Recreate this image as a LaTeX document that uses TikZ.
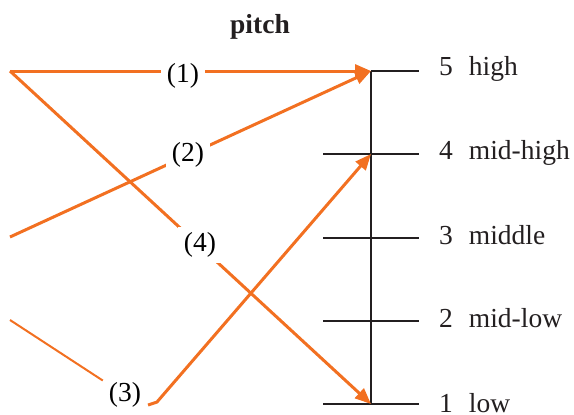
\documentclass[tikz,border=0pt]{standalone}
\usepackage{fontspec}
\setmainfont{Liberation Serif}
\usetikzlibrary{arrows.meta}
\definecolor{org}{RGB}{242,112,33}
\definecolor{ink}{RGB}{35,31,32}
\begin{document}
\begin{tikzpicture}[x=1pt,y=-1pt,
  lbl/.style={font=\fontsize{27.5}{32}\selectfont, fill=white, inner xsep=6pt, inner ysep=6pt},
  lvl/.style={font=\fontsize{27.5}{32}\selectfont, anchor=base west, inner sep=0pt, text=ink},
  oline/.style={draw=org, line width=3pt},
  thinline/.style={draw=org, line width=2pt},
  arr/.style={oline, -{Triangle[length=16pt,width=13pt]}},
  tickline/.style={draw=ink, line width=2.5pt},
  axisline/.style={draw=ink, line width=2pt},
 ]
\useasboundingbox (0,0) rectangle (574,415);
% title
\node[font=\bfseries\fontsize{27.5}{32}\selectfont, anchor=base, text=ink] (title) at (260,33) {pitch};
% scale
\coordinate (p5) at (371,71);
\coordinate (p4) at (371,154);
\coordinate (p3) at (371,238);
\coordinate (p2) at (371,321);
\coordinate (p1) at (371,404);
\coordinate (t5r) at (419,71);
\coordinate (t4l) at (323,154); \coordinate (t4r) at (419,154);
\coordinate (t3l) at (323,238); \coordinate (t3r) at (419,238);
\coordinate (t2l) at (323,321); \coordinate (t2r) at (419,321);
\coordinate (t1l) at (323,404); \coordinate (t1r) at (419,404);
\draw[axisline] (p5) -- (p1);
\draw[tickline] (p5) -- (t5r);
\draw[tickline] (t4l) -- (t4r);
\draw[tickline] (t3l) -- (t3r);
\draw[tickline] (t2l) -- (t2r);
\draw[tickline] (t1l) -- (t1r);
\node[lvl] (v5) at (439,75) {5\hspace{16pt}high};
\node[lvl] (v4) at (439,159.5) {4\hspace{16pt}mid-high};
\node[lvl] (v3) at (439,244) {3\hspace{16pt}middle};
\node[lvl] (v2) at (439,327.5) {2\hspace{16pt}mid-low};
\node[lvl] (v1) at (439,412) {1\hspace{16pt}low};
% starts
\coordinate (s1) at (10,71);
\coordinate (s2) at (10,237);
\coordinate (s3) at (10,320);
\coordinate (h3a) at (148,405);
\coordinate (h3b) at (157,402);
% connectors
\draw[arr] (s1) -- (p5);
\draw[arr] (s2) -- (p5);
\draw[arr] (s1) -- (p1);
\node[lbl] (l1) at (183,76) {(1)};
\node[lbl] (l2) at (188,155) {(2)};
\node[lbl] (l4) at (200,245) {(4)};
\node[lbl, fill=none] (l3) at (125,395) {(3)};
\draw[thinline] (s3) -- (l3);
\draw[arr] (h3a) -- (h3b) -- (p4);
\end{tikzpicture}
\end{document}
